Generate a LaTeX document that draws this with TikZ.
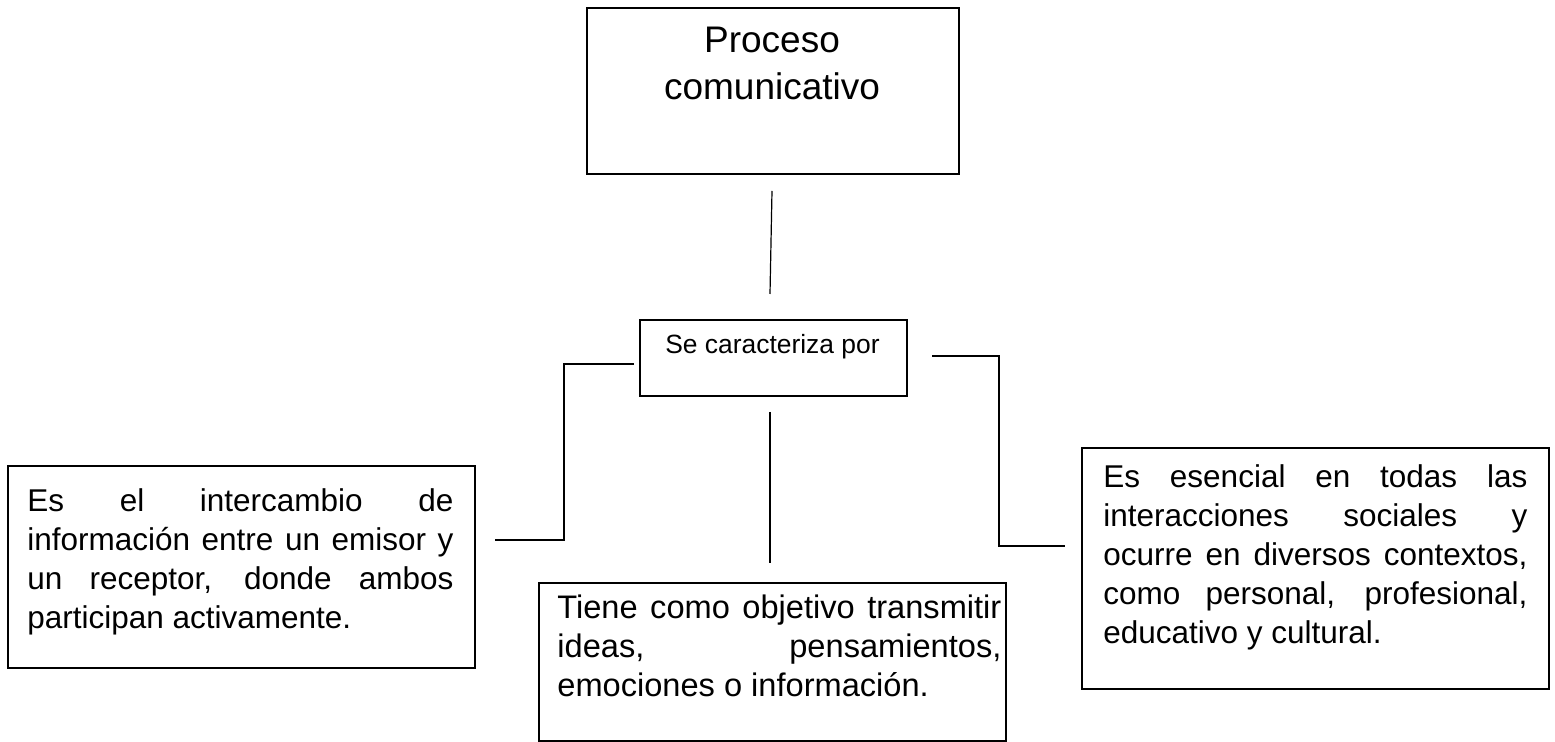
\documentclass[tikz,border=0pt]{standalone}
\usepackage{fontspec}
\setmainfont{Liberation Sans}
\begin{document}
\begin{tikzpicture}[x=0.5pt, y=-0.5pt, every node/.style={inner sep=0pt}]
\tikzset{
  caja/.style={draw, line width=1.1pt, anchor=north west},
  texto/.style={anchor=base west, align=justify, font=\fontsize{15.75}{19.4}\selectfont},
  linea/.style={line width=0.6pt}
}
\useasboundingbox (0,0) rectangle (1555,742);
% Draw boxes
\node[caja, minimum width=186pt, minimum height=83pt] (titulo) at (586,7) {};
\node[caja, minimum width=133.5pt, minimum height=38pt] (caract) at (639,319) {};
\node[caja, minimum width=233.5pt, minimum height=101pt] (izq) at (7,465) {};
\node[caja, minimum width=233.5pt, minimum height=79pt] (centro) at (538,582) {};
\node[caja, minimum width=233.5pt, minimum height=120.5pt] (der) at (1081,447) {};
% Draw texts
\node[anchor=base, text width=160pt, align=center, font=\fontsize{18.5}{23.5}\selectfont] (tituloTxt) at (772,53) {Proceso\\comunicativo};
\node[anchor=base, font=\fontsize{13.2}{15}\selectfont] (caractTxt) at (772.5,354) {Se caracteriza por};
\node[texto, text width=213pt] (izqTxt) at (27,512) {Es el intercambio de\linebreak información entre un emisor y\linebreak un receptor, donde ambos\linebreak participan activamente.};
\node[texto, text width=222pt, font=\fontsize{16.3}{19.5}\selectfont] (centroTxt) at (557,619) {Tiene como objetivo transmitir\linebreak ideas, pensamientos,\linebreak emociones o información.};
\node[texto, text width=212pt] (derTxt) at (1103,488) {Es esencial en todas las\linebreak interacciones sociales y\linebreak ocurre en diversos contextos,\linebreak como personal, profesional,\linebreak educativo y cultural.};
% Connector ends
\coordinate (t1) at (772,191);
\coordinate (t2) at (770,294);
\coordinate (i1) at (634,364);
\coordinate (i2) at (564,540);
\coordinate (i3) at (495,540);
\coordinate (d1) at (932,356);
\coordinate (d2) at (999,546);
\coordinate (d3) at (1065,546);
\coordinate (c1) at (770,412);
\coordinate (c2) at (770,563);
% Draw connectors
\draw[linea] (t1) -- (t2);
\draw[linea] (i1) -| (i2) -- (i3);
\draw[linea] (d1) -| (d2) -- (d3);
\draw[linea] (c1) -- (c2);
\end{tikzpicture}
\end{document}
